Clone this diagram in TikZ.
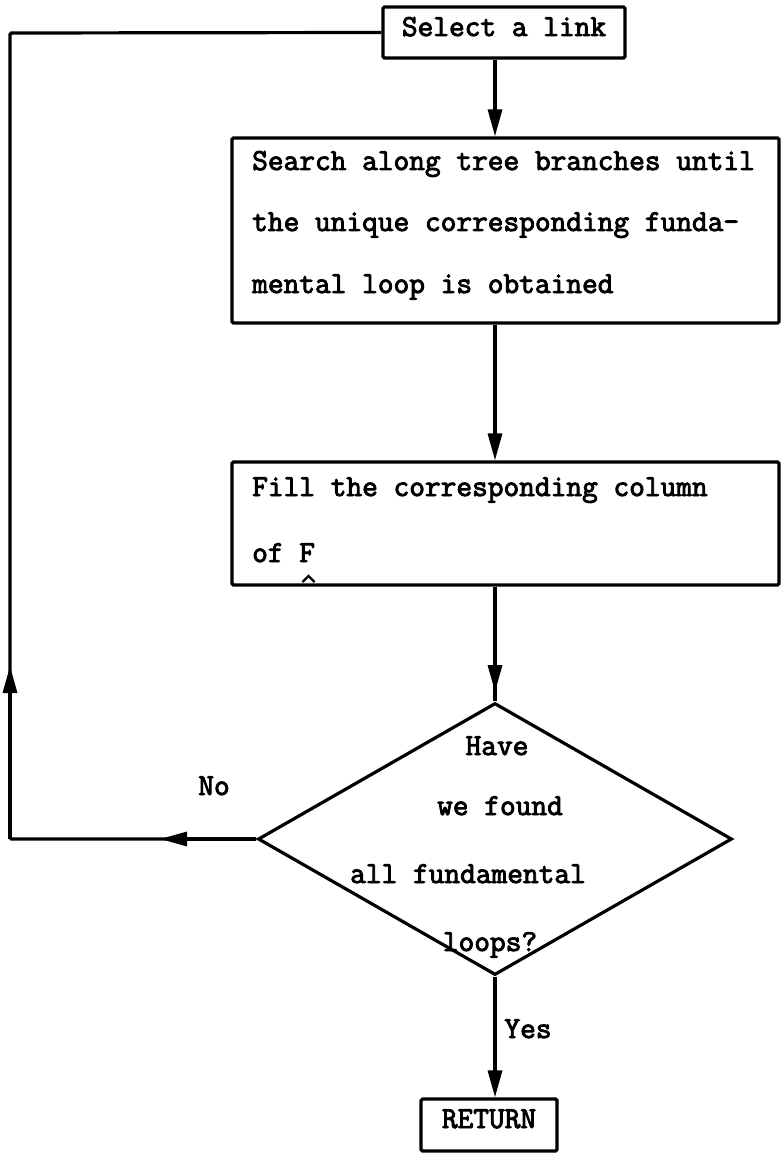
\documentclass[tikz,border=0pt]{standalone}
\usepackage{fontspec}
\newfontfamily\typew[FakeBold=3]{Latin Modern Mono}
\usetikzlibrary{arrows.meta,shapes.geometric}
\begin{document}
\begin{tikzpicture}[x=1pt,y=-1pt,
  line/.style={line width=3.2pt},
  arr/.style={line width=3.2pt,-{Triangle[length=27pt,width=14pt]}},
  box/.style={draw,line width=3.2pt,rounded corners=1.5pt,inner sep=0pt},
  txt/.style={font=\typew\fontsize{30.5}{34}\selectfont,
    inner sep=0pt,text height=0.6em,text depth=0pt},
]
\useasboundingbox (0,0) rectangle (781,1158);

% process boxes
\node[box,minimum width=242pt,minimum height=51pt] (sel) at (504,32.5) {};
\node[txt] (selt) at (504,33) {Select a link};

\node[box,minimum width=547pt,minimum height=185pt] (srch) at (505.5,230.5) {};
\node[txt,anchor=west] (s1) at (252,167) {Search along tree branches until};
\node[txt,anchor=west] (s2) at (252,228) {the unique corresponding funda-};
\node[txt,anchor=west] (s3) at (252,290) {mental loop is obtained};

\node[box,minimum width=547pt,minimum height=123pt] (fill) at (505.5,523.5) {};
\node[txt,anchor=west] (f1) at (252,493) {Fill the corresponding column};
\node[txt,anchor=west] (f2) at (252,559) {of F};
% matrix mark under the F
\draw[line width=2.2pt,line join=miter] (302.5,582) -- (308.5,576) -- (314.5,582);

% decision
\node[draw,line width=3.2pt,shape=diamond,inner sep=0pt,
  minimum width=474pt,minimum height=272pt] (dia) at (495,839) {};
\node[txt] (d1) at (497,752) {Have};
\node[txt] (d2) at (500,812) {we found};
\node[txt] (d3) at (468,880) {all fundamental};
\node[txt] (d4) at (490,948) {loops?};

\node[box,minimum width=136pt,minimum height=52pt] (ret) at (489,1125) {};
\node[txt] (rett) at (489,1125) {RETURN};

% connectors
\draw[arr] (sel.south -| dia.north) -- (srch.north -| dia.north);
\draw[arr] (srch.south -| dia.north) -- (fill.north -| dia.north);
\coordinate (h3) at (495,692);
\draw[line] (fill.south -| dia.north) -- (dia.north);
\draw[arr] (fill.south -| dia.north) -- (h3);
\draw[arr] (dia.south) -- (ret.north -| dia.south);
\node[txt] (yes) at (528,1035) {Yes};

% return path for "No"
\coordinate (c1) at (10,839);
\coordinate (c2) at (10,33);
\coordinate (na) at (160,839);
\coordinate (ua) at (10,666);
\draw[line,rounded corners=1.5pt] (dia.west) -- (c1) -- (c2) -- (sel.west);
\draw[arr] (dia.west) -- (na);
\draw[arr] (c1) -- (ua);
\node[txt] (no) at (214,792) {No};
\end{tikzpicture}
\end{document}
